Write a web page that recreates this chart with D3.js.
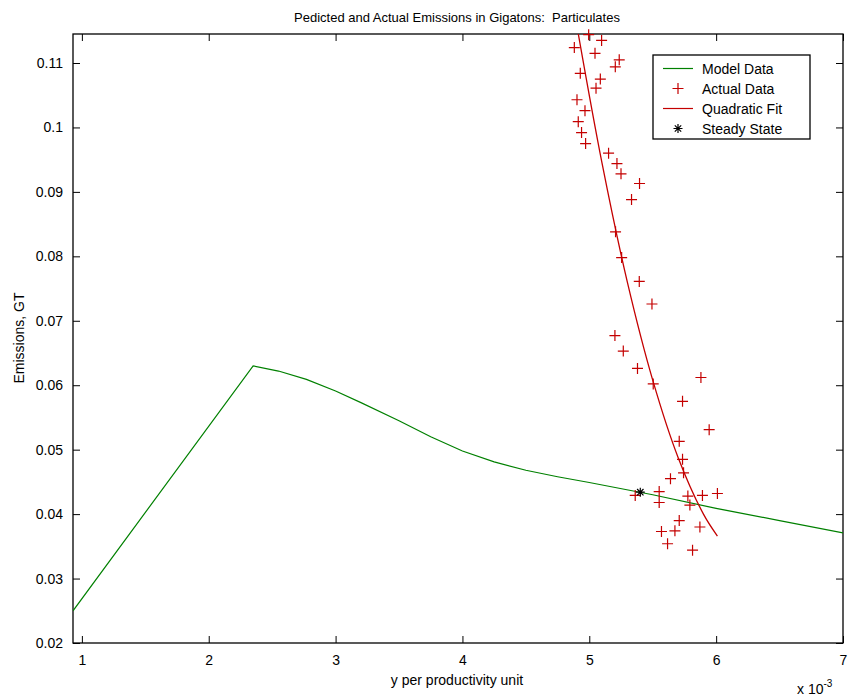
<!DOCTYPE html>
<html>
<head>
<meta charset="utf-8">
<script src="https://cdn.jsdelivr.net/npm/d3@7"></script>
<style>
  body { margin: 0; background: #fff; }
  svg { font-family: "Liberation Sans", Arial, sans-serif; }
</style>
</head>
<body>
<div id="chart"></div>
<script>
// x values are in units of 10^-3 (see the "x 10^-3" note)
var modelX = [0.93, 2.35, 2.55, 2.77, 3.0, 3.2, 3.5, 3.75, 4.0, 4.25, 4.5, 4.75, 5.0, 5.5, 6.0, 6.5, 7.0];
var modelY = [0.0250, 0.0630, 0.0622, 0.0609, 0.0591, 0.0573, 0.0545, 0.0520, 0.0498, 0.0481, 0.0468, 0.0458, 0.0449, 0.0430, 0.0409, 0.0390, 0.0371];

var actualX = [4.995, 5.097, 4.882, 5.045, 5.236, 5.205, 4.929, 5.087, 5.053, 4.903,
  4.966, 4.913, 4.939, 4.971, 5.152, 5.218, 5.250, 5.396, 5.333, 5.207,
  5.255, 5.394, 5.494, 5.202, 5.268, 5.380, 5.880, 5.504, 5.735, 5.945,
  5.709, 5.735, 5.743, 5.640, 5.551, 5.362, 5.551, 5.777, 5.793, 5.892,
  6.010, 5.709, 5.872, 5.569, 5.675, 5.617, 5.814];
var actualY = [0.1144, 0.1135, 0.1124, 0.1115, 0.1105, 0.1094, 0.1084, 0.1075, 0.1061, 0.1043,
  0.1026, 0.1009, 0.0992, 0.0975, 0.0960, 0.0944, 0.0928, 0.0913, 0.0888, 0.0838,
  0.0798, 0.0761, 0.0726, 0.0677, 0.0653, 0.0626, 0.0612, 0.0602, 0.0575, 0.0531,
  0.0513, 0.0485, 0.0464, 0.0455, 0.0435, 0.0429, 0.0418, 0.0428, 0.0414, 0.0429,
  0.0432, 0.0390, 0.0380, 0.0373, 0.0374, 0.0354, 0.0344];

var fitX = [4.90, 5.10, 5.30, 5.50, 5.70, 5.90, 6.01];
var fitY = [0.1160, 0.0945, 0.0760, 0.0608, 0.0488, 0.0400, 0.0366];

var steadyX = [5.402];
var steadyY = [0.0434];

var xTicks = [1, 2, 3, 4, 5, 6, 7];
var yTicks = [0.02, 0.03, 0.04, 0.05, 0.06, 0.07, 0.08, 0.09, 0.1, 0.11];

var legendLabels = ["Model Data", "Actual Data", "Quadratic Fit", "Steady State"];

var svgWidth = 849;
var svgHeight = 698;
var margin = { top: 34, right: 6, bottom: 55, left: 73 };
var width = svgWidth - margin.left - margin.right;
var height = svgHeight - margin.top - margin.bottom;

var green = "#008000";
var red = "#c40000";

var svg = d3.select("#chart")
  .append("svg")
  .attr("width", svgWidth)
  .attr("height", svgHeight);

var chartGroup = svg.append("g")
  .attr("transform", `translate(${margin.left}, ${margin.top})`);

var xScale = d3.scaleLinear().domain([0.93, 7]).range([0, width]);
var yScale = d3.scaleLinear().domain([0.02, 0.1145]).range([height, 0]);

chartGroup.append("clipPath").attr("id", "plotclip")
  .append("rect").attr("width", width).attr("height", height);

// axes, ticks inward like matlab
var tickLen = 7;
var bottomAxis = d3.axisBottom(xScale).tickValues(xTicks).tickSizeInner(-tickLen).tickSizeOuter(0).tickPadding(12).tickFormat(d3.format("d"));
var topAxis = d3.axisTop(xScale).tickValues(xTicks).tickSizeInner(-tickLen).tickSizeOuter(0).tickFormat("");
var leftAxis = d3.axisLeft(yScale).tickValues(yTicks).tickSizeInner(-tickLen).tickSizeOuter(0).tickPadding(10).tickFormat(d => d3.format("")(+d.toFixed(2)));
var rightAxis = d3.axisRight(yScale).tickValues(yTicks).tickSizeInner(-tickLen).tickSizeOuter(0).tickFormat("");

var axes = [
  chartGroup.append("g").attr("transform", `translate(0, ${height})`).call(bottomAxis),
  chartGroup.append("g").call(topAxis),
  chartGroup.append("g").call(leftAxis),
  chartGroup.append("g").attr("transform", `translate(${width}, 0)`).call(rightAxis)
];
axes.forEach(function(a) {
  a.select(".domain").remove();
  a.selectAll("line").attr("stroke", "#000");
  a.selectAll("text").attr("fill", "#000").style("font-size", "14px").style("font-family", "Liberation Sans, Arial, sans-serif");
});

chartGroup.append("rect")
  .attr("width", width).attr("height", height)
  .attr("fill", "none").attr("stroke", "#000").attr("stroke-width", 1.3);

var line = d3.line().x(d => xScale(d[0])).y(d => yScale(d[1]));

// model data
chartGroup.append("path")
  .datum(modelX.map((x, i) => [x, modelY[i]]))
  .attr("clip-path", "url(#plotclip)")
  .attr("fill", "none").attr("stroke", green).attr("stroke-width", 1.2)
  .attr("d", line);

// quadratic fit
chartGroup.append("path")
  .datum(fitX.map((x, i) => [x, fitY[i]]))
  .attr("clip-path", "url(#plotclip)")
  .attr("fill", "none").attr("stroke", red).attr("stroke-width", 1.3)
  .attr("d", line.curve(d3.curveCatmullRom));

// actual data crosses
var cross = "M-5.5,0H5.5M0,-5.5V5.5";
chartGroup.selectAll(".actual")
  .data(actualX.map((x, i) => [x, actualY[i]]))
  .enter()
  .append("path")
  .attr("class", "actual")
  .attr("transform", d => `translate(${xScale(d[0])}, ${yScale(d[1])})`)
  .attr("d", cross)
  .attr("stroke", red).attr("stroke-width", 1.2).attr("fill", "none");

// steady state asterisk
var star = "M-4.5,0H4.5M0,-4.5V4.5M-3.2,-3.2L3.2,3.2M-3.2,3.2L3.2,-3.2";
chartGroup.selectAll(".steady")
  .data(steadyX.map((x, i) => [x, steadyY[i]]))
  .enter()
  .append("path")
  .attr("class", "steady")
  .attr("transform", d => `translate(${xScale(d[0])}, ${yScale(d[1])})`)
  .attr("d", star)
  .attr("stroke", "#000").attr("stroke-width", 1.2).attr("fill", "none");

// title and labels
svg.append("text")
  .attr("x", 457).attr("y", 22)
  .attr("text-anchor", "middle")
  .style("font-size", "13px").style("white-space", "pre")
  .text("Pedicted and Actual Emissions in Gigatons:  Particulates");

svg.append("text")
  .attr("x", 457).attr("y", 685)
  .attr("text-anchor", "middle")
  .style("font-size", "14px")
  .text("y per productivity unit");

svg.append("text")
  .attr("transform", "translate(24, 338) rotate(-90)")
  .attr("text-anchor", "middle")
  .style("font-size", "14px")
  .text("Emissions, GT");

var exp = svg.append("text")
  .attr("x", 797).attr("y", 694)
  .style("font-size", "14px");
exp.append("tspan").text("x 10");
exp.append("tspan").attr("dy", -7).style("font-size", "10px").text("-3");

// legend
var legend = svg.append("g").attr("transform", "translate(653, 55)");
legend.append("rect")
  .attr("width", 157).attr("height", 84)
  .attr("fill", "#fff").attr("stroke", "#000").attr("stroke-width", 1.3);

var rows = legend.selectAll(".row")
  .data(legendLabels)
  .enter()
  .append("g")
  .attr("transform", (d, i) => `translate(0, ${13.5 + i * 20})`);

rows.append("text")
  .attr("x", 49).attr("y", 5)
  .style("font-size", "14px")
  .text(d => d);

legend.append("line").attr("x1", 10).attr("x2", 40).attr("y1", 13.5).attr("y2", 13.5)
  .attr("stroke", green).attr("stroke-width", 1.2);
legend.append("path").attr("transform", "translate(25, 33.5)").attr("d", cross)
  .attr("stroke", red).attr("stroke-width", 1.2);
legend.append("line").attr("x1", 10).attr("x2", 40).attr("y1", 53.5).attr("y2", 53.5)
  .attr("stroke", red).attr("stroke-width", 1.2);
legend.append("path").attr("transform", "translate(25, 73.5)").attr("d", star)
  .attr("stroke", "#000").attr("stroke-width", 1.2);
</script>
</body>
</html>
